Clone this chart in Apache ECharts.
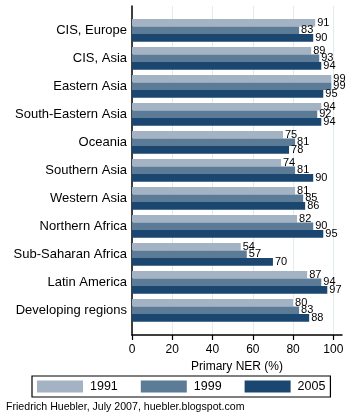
<!DOCTYPE html>
<html>
<head>
<meta charset="utf-8">
<script src="https://cdn.jsdelivr.net/npm/echarts@6/dist/echarts.min.js"></script>
<style>
  html, body { margin: 0; padding: 0; background: #fff; }
  #chart { width: 350px; height: 420px; }
</style>
</head>
<body>
<div id="chart"></div>
<script>
// regions, top to bottom
var regions = ["CIS, Europe", "CIS, Asia", "Eastern Asia", "South-Eastern Asia", "Oceania",
  "Southern Asia", "Western Asia", "Northern Africa", "Sub-Saharan Africa", "Latin America",
  "Developing regions"];
var ner1991 = [91, 89, 99, 94, 75, 74, 81, 82, 54, 87, 80];
var ner1999 = [83, 93, 99, 92, 81, 81, 85, 90, 57, 94, 83];
var ner2005 = [90, 94, 95, 94, 78, 90, 86, 95, 70, 97, 88];
var xTicks = [0, 20, 40, 60, 80, 100];

var font = "Liberation Sans, Arial, sans-serif";
var colors = ["#a3b3c3", "#5b7b97", "#1b4670"];
var xMax = 104.3;

var chart = echarts.init(document.getElementById("chart"));

function barSeries(name, data, color) {
  return {
    name: name,
    type: "bar",
    xAxisIndex: 0,
    yAxisIndex: 0,
    barWidth: 7.6,
    barGap: "0%",
    itemStyle: { color: color },
    label: {
      show: true,
      position: "right",
      distance: 2,
      color: "#000",
      fontFamily: font,
      fontSize: 11
    },
    data: data
  };
}

var option = {
  animation: false,
  backgroundColor: "#fff",
  title: {
    text: "Friedrich Huebler, July 2007, huebler.blogspot.com",
    left: 6,
    top: 402,
    padding: 0,
    textStyle: { fontFamily: font, fontSize: 10.6, fontWeight: "normal", color: "#000" }
  },
  legend: {
    left: 32,
    top: 376,
    padding: [4, 5],
    itemWidth: 46,
    itemHeight: 12,
    itemGap: 23,
    borderColor: "#000",
    borderWidth: 1.2,
    borderRadius: 0,
    icon: "rect",
    textStyle: { fontFamily: font, fontSize: 12.5, color: "#000", padding: [0, 0, 0, 2] },
    data: ["1991", "1999", "2005"]
  },
  grid: [
    { left: 132, right: 8, top: 16.3, bottom: 95.7 },
    { left: 132, right: 8, top: 6, bottom: 85 }
  ],
  xAxis: [
    { gridIndex: 0, type: "value", min: 0, max: xMax, show: false },
    {
      gridIndex: 1,
      type: "value",
      min: 0,
      max: xMax,
      interval: 20,
      name: "Primary NER (%)",
      nameLocation: "middle",
      nameGap: 21,
      nameTextStyle: { fontFamily: font, fontSize: 12, color: "#000" },
      axisLine: { show: true, lineStyle: { color: "#000", width: 1.5 } },
      axisTick: { show: true, length: 5, customValues: xTicks, lineStyle: { color: "#000", width: 1.2 } },
      axisLabel: { margin: 9, customValues: xTicks, fontFamily: font, fontSize: 12, color: "#000" },
      splitLine: { show: true, lineStyle: { color: "#e2ebef", width: 1 } }
    }
  ],
  yAxis: [
    {
      gridIndex: 0,
      type: "category",
      inverse: true,
      data: regions,
      axisLine: { show: false },
      axisTick: { show: false },
      axisLabel: { margin: 5, fontFamily: font, fontSize: 13, color: "#000" }
    },
    {
      gridIndex: 1,
      type: "value",
      min: 0,
      max: 1,
      axisLine: { show: true, lineStyle: { color: "#000", width: 1.5 } },
      axisTick: { show: false },
      axisLabel: { show: false },
      splitLine: { show: false }
    }
  ],
  series: [
    barSeries("1991", ner1991, colors[0]),
    barSeries("1999", ner1999, colors[1]),
    barSeries("2005", ner2005, colors[2])
  ]
};

chart.setOption(option);
</script>
</body>
</html>
